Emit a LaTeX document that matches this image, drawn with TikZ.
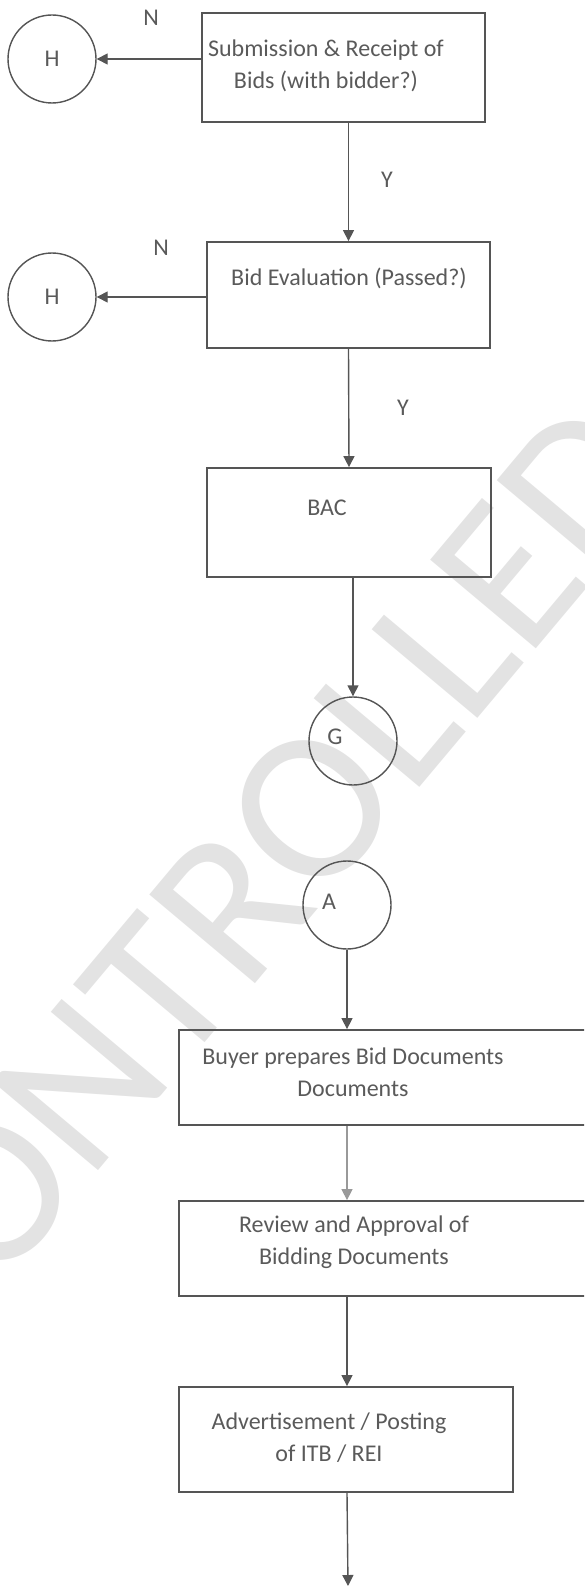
\documentclass[tikz,border=0pt]{standalone}
\usepackage{fontspec}
\setmainfont{Carlito}
\usetikzlibrary{arrows.meta}
\definecolor{inkgray}{HTML}{555555}
\definecolor{textgray}{HTML}{5A5A5A}

\begin{document}
\begin{tikzpicture}[
        x=1pt,
        y=-1pt,
        every node/.style={font=\fontsize{24}{32}\selectfont, text=textgray},
        procbox/.style={
            draw=inkgray,
            line width=1.8pt,
            rectangle,
            inner sep=0pt
        },
        connector/.style={
            draw=inkgray,
            circle,
            line width=1.4pt,
            minimum size=88pt,
            inner sep=0pt
        },
        boxtext/.style={align=center, inner sep=0pt},
        flow/.style={
            draw=inkgray,
            line width=1.4pt,
            -{Triangle[width=11pt,length=11pt]}
        }
    ]
        \useasboundingbox (0,0) rectangle (584,1586);
        \clip (0,0) rectangle (584,1586);

        % Watermark behind everything
        \node[rotate=50, text=black!11,
              font=\fontsize{215}{215}\selectfont]
            (stamp) at (160,990) {UNCONTROLLED};

        % Upper part: bids and evaluation
        \node[procbox, minimum width=283pt, minimum height=109pt]
            (sub) at (343.5,67.5) {};
        \node[boxtext] (subt) at (326,66)
            {Submission \& Receipt of\\Bids (with bidder?)};

        \node[procbox, minimum width=283pt, minimum height=106pt]
            (eval) at (348.5,295) {};
        \node[boxtext] (evalt) at (349,278) {Bid Evaluation (Passed?)};

        \node[procbox, minimum width=284pt, minimum height=109pt]
            (bac) at (349,522.5) {};
        \node[boxtext] (bact) at (327,508) {BAC};

        \node[connector] (h1) at (52,59) {H};
        \node[connector] (h2) at (52,297) {H};

        \node (n1) at (151,18) {N};
        \node (n2) at (161,248) {N};
        \node (y1) at (387,180) {Y};
        \node (y2) at (403,408) {Y};

        \draw[flow] (sub.west |- h1.east) -- (h1.east);
        \draw[flow] (eval.west |- h2.east) -- (h2.east);
        \draw[flow] (sub.south -| eval.north) -- (eval.north);
        \draw[flow] (eval.south) -- (bac.north);

        % Off-page connectors
        \node[connector] (g) at (353,741) {};
        \node (gt) at (335,737) {G};
        \node[connector] (a) at (347,905) {};
        \node (at) at (329,902) {A};

        \draw[flow] (bac.south -| g.north) -- (g.north);

        % Lower part: bid documents
        \node[procbox, minimum width=421pt, minimum height=95pt]
            (prep) at (389.5,1077.5) {};
        \node[boxtext] (prept) at (353,1072)
            {Buyer prepares Bid Documents\\Documents};

        \node[procbox, minimum width=421pt, minimum height=95pt]
            (review) at (389.5,1248.5) {};
        \node[boxtext] (reviewt) at (354,1242)
            {Review and Approval of\\Bidding Documents};

        \node[procbox, minimum width=334pt, minimum height=105pt]
            (adv) at (346,1439.5) {};
        \node[boxtext] (advt) at (329,1438)
            {Advertisement / Posting\\of ITB / REI};

        \coordinate (next) at (348,1586);

        \draw[flow] (a.south) -- (a.south |- prep.north);
        \draw[flow, draw=inkgray!60] (a.south |- prep.south)
            -- (a.south |- review.north);
        \draw[flow] (a.south |- review.south) -- (a.south |- adv.north);
        \draw[flow] (a.south |- adv.south) -- (next);
    \end{tikzpicture}
\end{document}
